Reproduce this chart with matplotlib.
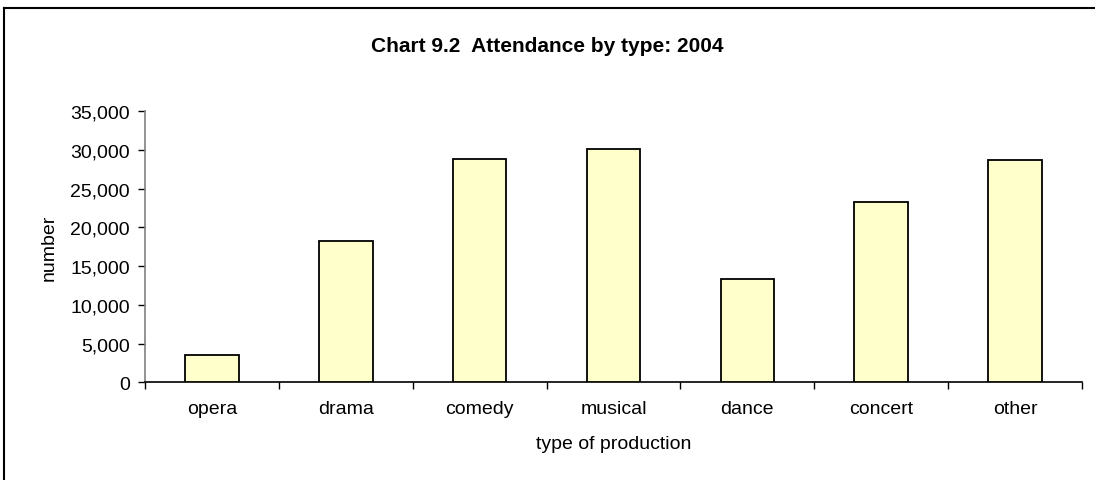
import matplotlib.pyplot as plt
import numpy as np
from matplotlib.lines import Line2D
from matplotlib.ticker import FuncFormatter

plt.rcParams['font.family'] = ['Liberation Sans', 'DejaVu Sans']

categories = ['opera', 'drama', 'comedy', 'musical', 'dance', 'concert', 'other']
attendance = [3500, 18200, 28800, 30100, 13400, 23300, 28700]
y_ticks = [0, 5000, 10000, 15000, 20000, 25000, 30000, 35000]

W, H = 1095, 481
FS = 14
fig = plt.figure(figsize=(W / 100, H / 100), dpi=100)
ax = fig.add_axes([145 / W, 1 - 383.3 / H, (1082 - 145) / W, (383.3 - 112.3) / H])

x = np.arange(len(categories))
ax.bar(x, attendance, width=0.4, color='#FFFFCC', edgecolor='black', linewidth=1.3, zorder=3)

ax.set_xlim(-0.5, len(categories) - 0.5)
ax.set_ylim(0, 35000)
ax.set_yticks(y_ticks)
ax.yaxis.set_major_formatter(FuncFormatter(lambda v, p: f"{int(v):,}"))

# category labels centred, ticks on the boundaries
ax.set_xticks(np.arange(len(categories) + 1) - 0.5)
ax.set_xticklabels([])
ax.set_xticks(x, minor=True)
ax.set_xticklabels(categories, minor=True)
ax.tick_params(axis='x', which='minor', length=0, pad=13, labelsize=FS)
ax.tick_params(axis='x', which='major', length=5, width=1, direction='out')
ax.tick_params(axis='y', length=5, width=1, pad=6, labelsize=FS)

for s in ['top', 'right']:
    ax.spines[s].set_visible(False)
ax.spines['left'].set_color('#808080')
ax.spines['left'].set_linewidth(1.2)
ax.spines['bottom'].set_linewidth(1.2)

ax.set_ylabel('number', fontsize=FS, labelpad=9)
ax.set_xlabel('type of production', fontsize=FS, labelpad=13)

fig.text(0.5, 1 - 47 / H, 'Chart 9.2  Attendance by type: 2004', ha='center', va='center',
         fontsize=15, fontweight='bold')

# outer frame (only left and top edges are visible in the crop)
fig.add_artist(Line2D([3.5 / W, 3.5 / W], [0, 1 - 9.3 / H], color='black', linewidth=1.5))
fig.add_artist(Line2D([3.5 / W, 1], [1 - 9.3 / H, 1 - 9.3 / H], color='black', linewidth=1.5))

fig.savefig('out.png', dpi=100)
